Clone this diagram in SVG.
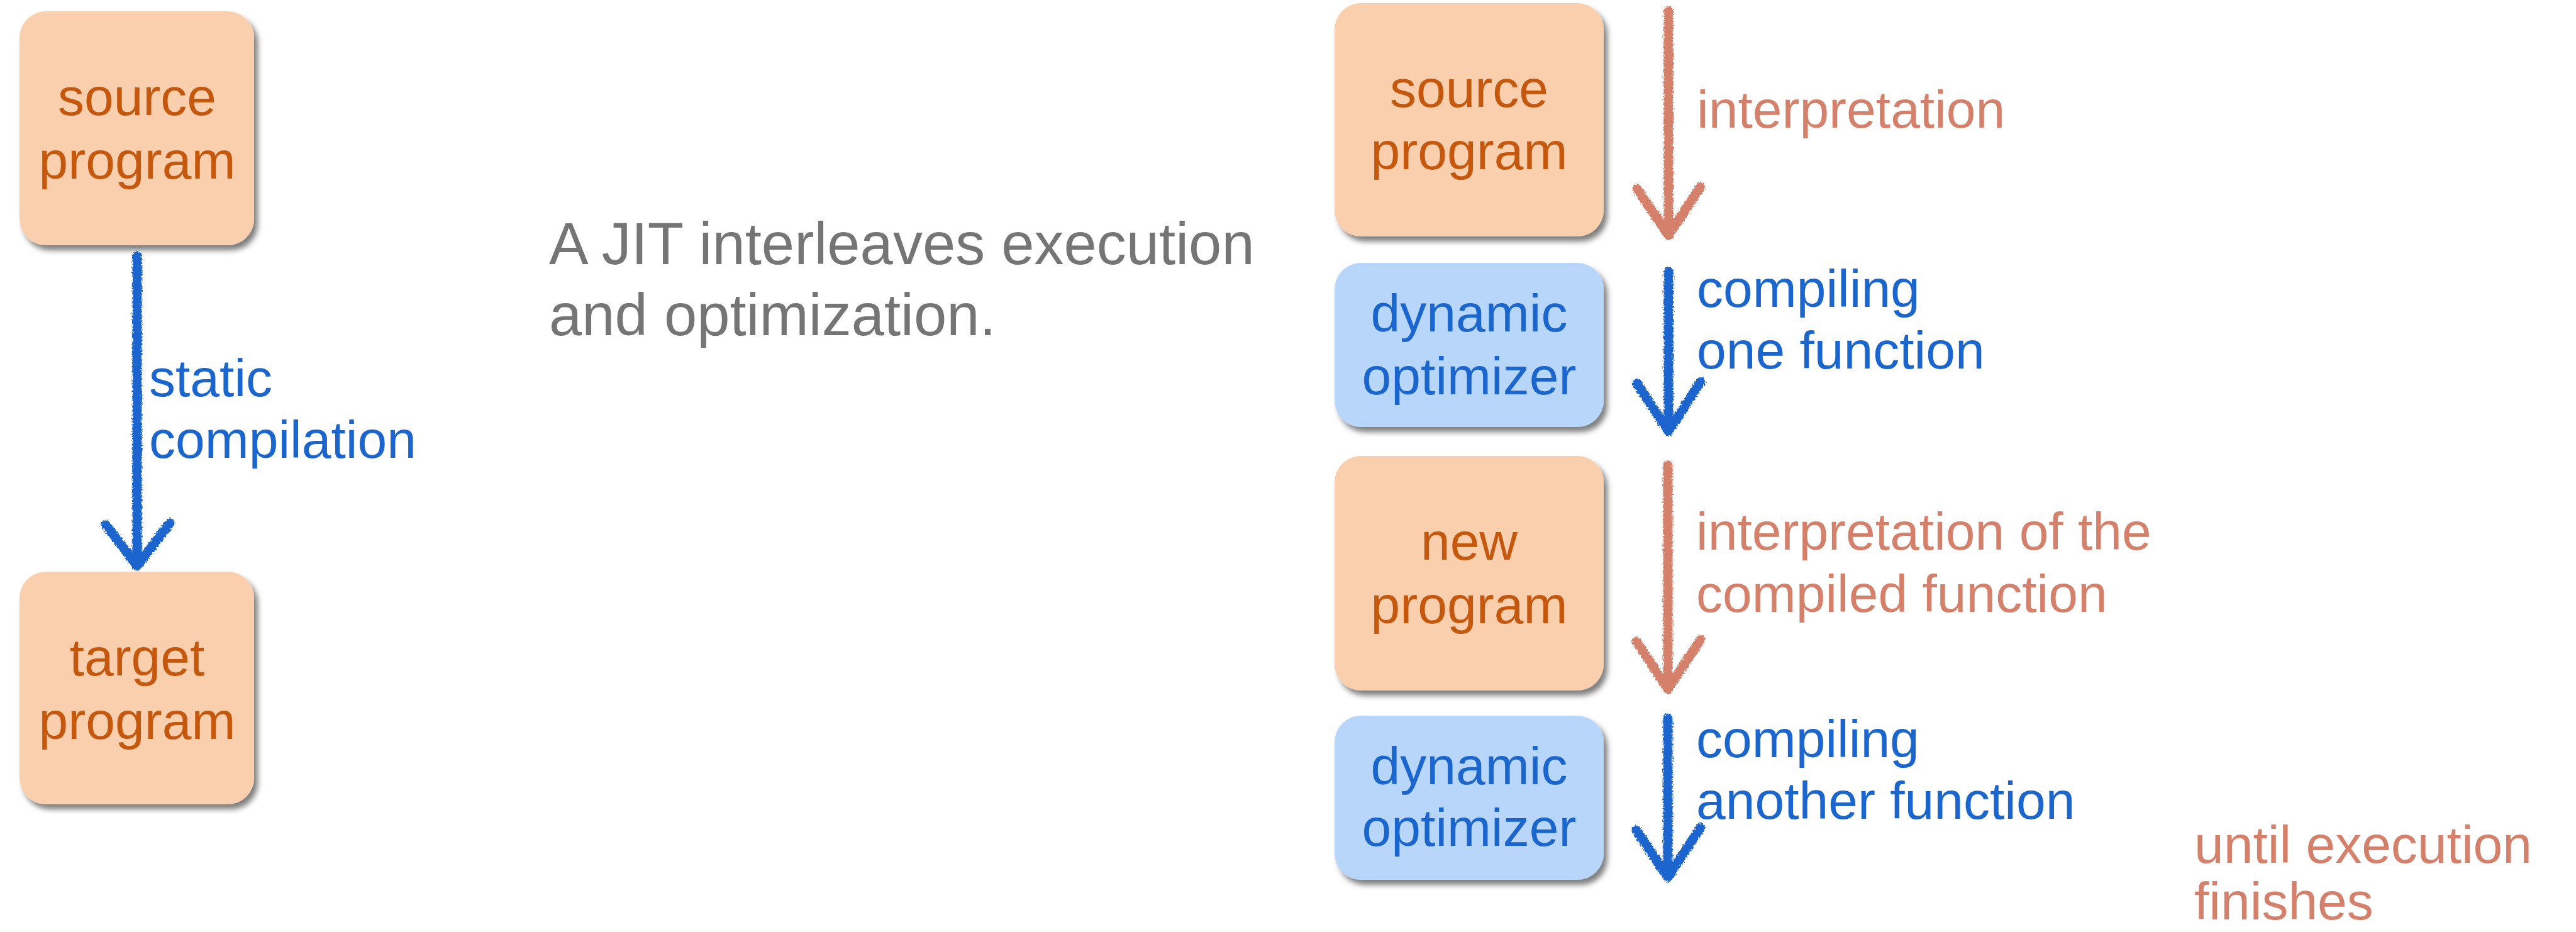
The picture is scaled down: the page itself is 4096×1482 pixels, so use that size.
<svg xmlns="http://www.w3.org/2000/svg" width="4096" height="1482" viewBox="0 0 4096 1482">
  <defs>
    <filter id="shadow" x="-10%" y="-10%" width="125%" height="130%">
      <feDropShadow dx="6" dy="8" stdDeviation="4.5" flood-color="#000" flood-opacity="0.5"/>
    </filter>
    <filter id="chalk" x="-50%" y="-5%" width="200%" height="110%">
      <feTurbulence type="fractalNoise" baseFrequency="0.4" numOctaves="2" seed="4" result="n"/>
      <feDisplacementMap in="SourceGraphic" in2="n" scale="8" xChannelSelector="R" yChannelSelector="G"/>
    </filter>
    <style>
      text { font-family: "Liberation Sans", Arial, sans-serif; font-size: 84px; }
      .box-orange { fill: #F9CFAE; filter: url(#shadow); }
      .box-blue { fill: #B7D6FA; filter: url(#shadow); }
      .t-orange { fill: #C6580E; text-anchor: middle; }
      .t-blue { fill: #1B65CE; text-anchor: middle; }
      .lbl-blue { fill: #1B65CE; }
      .lbl-salmon { fill: #D4806A; }
      .note { fill: #757575; font-size: 94px; }
      .arrow { fill: none; stroke-width: 15; stroke-linecap: round; stroke-linejoin: round; filter: url(#chalk); }
      .arrow-blue { stroke: #1B65CE; }
      .arrow-salmon { stroke: #D4806A; }
    </style>
  </defs>

  <!-- static compilation pipeline -->
  <g id="left-source">
    <rect class="box-orange" x="31" y="18" width="373" height="372" rx="42"/>
    <text class="t-orange" x="218" y="183">source</text>
    <text class="t-orange" x="218" y="284">program</text>
  </g>
  <g id="left-target">
    <rect class="box-orange" x="31" y="909" width="373" height="370" rx="42"/>
    <text class="t-orange" x="218" y="1074">target</text>
    <text class="t-orange" x="218" y="1175">program</text>
  </g>

  <!-- JIT pipeline -->
  <g id="jit-source">
    <rect class="box-orange" x="2122" y="5" width="428" height="371" rx="42"/>
    <text class="t-orange" x="2336" y="170">source</text>
    <text class="t-orange" x="2336" y="269">program</text>
  </g>
  <g id="jit-optimizer-1">
    <rect class="box-blue" x="2122" y="418" width="428" height="261" rx="42"/>
    <text class="t-blue" x="2336" y="527">dynamic</text>
    <text class="t-blue" x="2336" y="627">optimizer</text>
  </g>
  <g id="jit-new">
    <rect class="box-orange" x="2122" y="725" width="428" height="373" rx="42"/>
    <text class="t-orange" x="2336" y="890">new</text>
    <text class="t-orange" x="2336" y="991">program</text>
  </g>
  <g id="jit-optimizer-2">
    <rect class="box-blue" x="2122" y="1138" width="428" height="261" rx="42"/>
    <text class="t-blue" x="2336" y="1247">dynamic</text>
    <text class="t-blue" x="2336" y="1345">optimizer</text>
  </g>

  <!-- hand-drawn arrows -->
  <g id="connectors">
    <path class="arrow arrow-blue" d="M218 407 L218 898 M168 834 L218 900 L270 832"/>
    <path class="arrow arrow-salmon" d="M2653 18 L2653 372 M2603 300 L2653 374 L2704 297"/>
    <path class="arrow arrow-blue" d="M2653 432 L2653 684 M2603 610 L2653 686 L2704 607"/>
    <path class="arrow arrow-salmon" d="M2652 740 L2652 1094 M2602 1020 L2652 1096 L2704 1017"/>
    <path class="arrow arrow-blue" d="M2652 1142 L2652 1393 M2602 1320 L2652 1395 L2704 1316"/>
  </g>

  <!-- connector labels -->
  <g id="labels">
    <text class="lbl-blue" x="237" y="630">static</text>
    <text class="lbl-blue" x="237" y="728">compilation</text>
    <text class="lbl-salmon" x="2698" y="203">interpretation</text>
    <text class="lbl-blue" x="2698" y="488">compiling</text>
    <text class="lbl-blue" x="2698" y="586">one function</text>
    <text class="lbl-salmon" x="2697" y="874">interpretation of the</text>
    <text class="lbl-salmon" x="2697" y="973">compiled function</text>
    <text class="lbl-blue" x="2697" y="1204">compiling</text>
    <text class="lbl-blue" x="2697" y="1302">another function</text>
    <text class="lbl-salmon" x="3489" y="1372">until execution</text>
    <text class="lbl-salmon" x="3489" y="1462">finishes</text>
  </g>

  <g id="caption">
    <text class="note" x="873" y="420">A JIT interleaves execution</text>
    <text class="note" x="873" y="533">and optimization.</text>
  </g>
</svg>
